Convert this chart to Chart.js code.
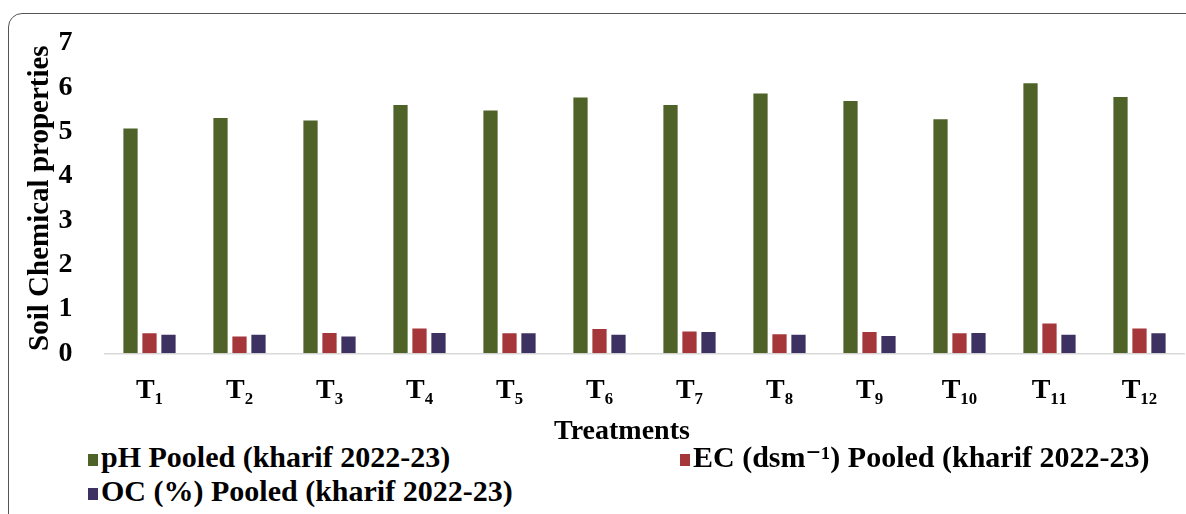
<!DOCTYPE html>
<html lang="en">
<head>
    <meta charset="UTF-8">
    <title>Soil Chemical properties</title>
    <script src="https://cdn.jsdelivr.net/npm/chart.js"></script>
    <style>
        body { margin: 0; background: white; width: 1186px; height: 514px; overflow: hidden; position: relative; font-family: "Liberation Serif", "DejaVu Serif", serif; }
        .frame { position: absolute; left: 8px; top: 13px; width: 1220px; height: 540px; border: 1.5px solid #555; border-radius: 14px; }
        .chart-box { position: absolute; left: 0; top: 0; width: 1186px; height: 420px; }
        .xtitle { position: absolute; top: 413px; left: 622px; transform: translateX(-50%); font-weight: bold; font-size: 28px; line-height: 34px; color: #000; white-space: nowrap; }
        .leg { position: absolute; font-weight: bold; font-size: 30px; line-height: 34px; color: #000; white-space: nowrap; }
        .leg i { display: inline-block; width: 10px; height: 12px; margin-right: 3px; vertical-align: 1px; }
    </style>
</head>
<body>

<div class="frame"></div>
<div class="chart-box"><canvas id="soilChart"></canvas></div>
<div class="xtitle">Treatments</div>
<div class="leg" style="left: 88px; top: 440px;"><i style="background:#4f6228"></i>pH Pooled (kharif 2022-23)</div>
<div class="leg" style="left: 680px; top: 440px;"><i style="background:#a5373a"></i>EC (dsm⁻¹) Pooled (kharif 2022-23)</div>
<div class="leg" style="left: 88px; top: 474px;"><i style="background:#3c3160"></i>OC (%) Pooled (kharif 2022-23)</div>

<script>
const treatments = ['T₁', 'T₂', 'T₃', 'T₄', 'T₅', 'T₆', 'T₇', 'T₈', 'T₉', 'T₁₀', 'T₁₁', 'T₁₂'];
const phPooled = [5.07, 5.31, 5.25, 5.60, 5.48, 5.77, 5.60, 5.86, 5.69, 5.28, 6.09, 5.78];
const ecPooled = [0.45, 0.38, 0.46, 0.56, 0.45, 0.55, 0.49, 0.43, 0.48, 0.45, 0.67, 0.56];
const ocPooled = [0.42, 0.42, 0.38, 0.46, 0.45, 0.42, 0.48, 0.42, 0.39, 0.46, 0.42, 0.45];
const yMin = 0, yMax = 7, yStep = 1;

const serif = "'Liberation Serif', 'DejaVu Serif', serif";

let soilChart = new Chart(document.getElementById('soilChart'), {
    type: 'bar',
    data: {
        labels: treatments,
        datasets: [
            { label: 'pH Pooled (kharif 2022-23)', data: phPooled, backgroundColor: '#4f6228' },
            { label: 'EC (dsm⁻¹) Pooled (kharif 2022-23)', data: ecPooled, backgroundColor: '#a5373a' },
            { label: 'OC (%) Pooled (kharif 2022-23)', data: ocPooled, backgroundColor: '#3c3160' }
        ]
    },
    options: {
        responsive: true,
        maintainAspectRatio: false,
        animation: false,
        devicePixelRatio: 1,
        layout: { padding: { top: 43, right: 1.5, bottom: 0, left: 0 } },
        datasets: { bar: { categoryPercentage: 0.633, barPercentage: 0.75 } },
        plugins: { legend: { display: false }, tooltip: { enabled: false } },
        scales: {
            x: {
                grid: { display: false },
                border: { display: true, color: '#d9d9d9', width: 1.5 },
                ticks: { color: '#000', padding: 13, maxRotation: 0, font: { family: serif, size: 28, weight: 'bold' } },
                afterFit: s => { s.height = 420 - 353.3; }
            },
            y: {
                min: yMin,
                max: yMax,
                grid: { display: false },
                border: { display: false },
                ticks: { stepSize: yStep, color: '#000', padding: 24, font: { family: serif, size: 28, weight: 'bold' } },
                title: { display: true, text: 'Soil Chemical properties', color: '#000', padding: { top: 23, bottom: 0 }, font: { family: serif, size: 29, weight: 'bold' } },
                afterFit: s => { s.width = 104.5; }
            }
        }
    }
});
</script>
</body>
</html>
